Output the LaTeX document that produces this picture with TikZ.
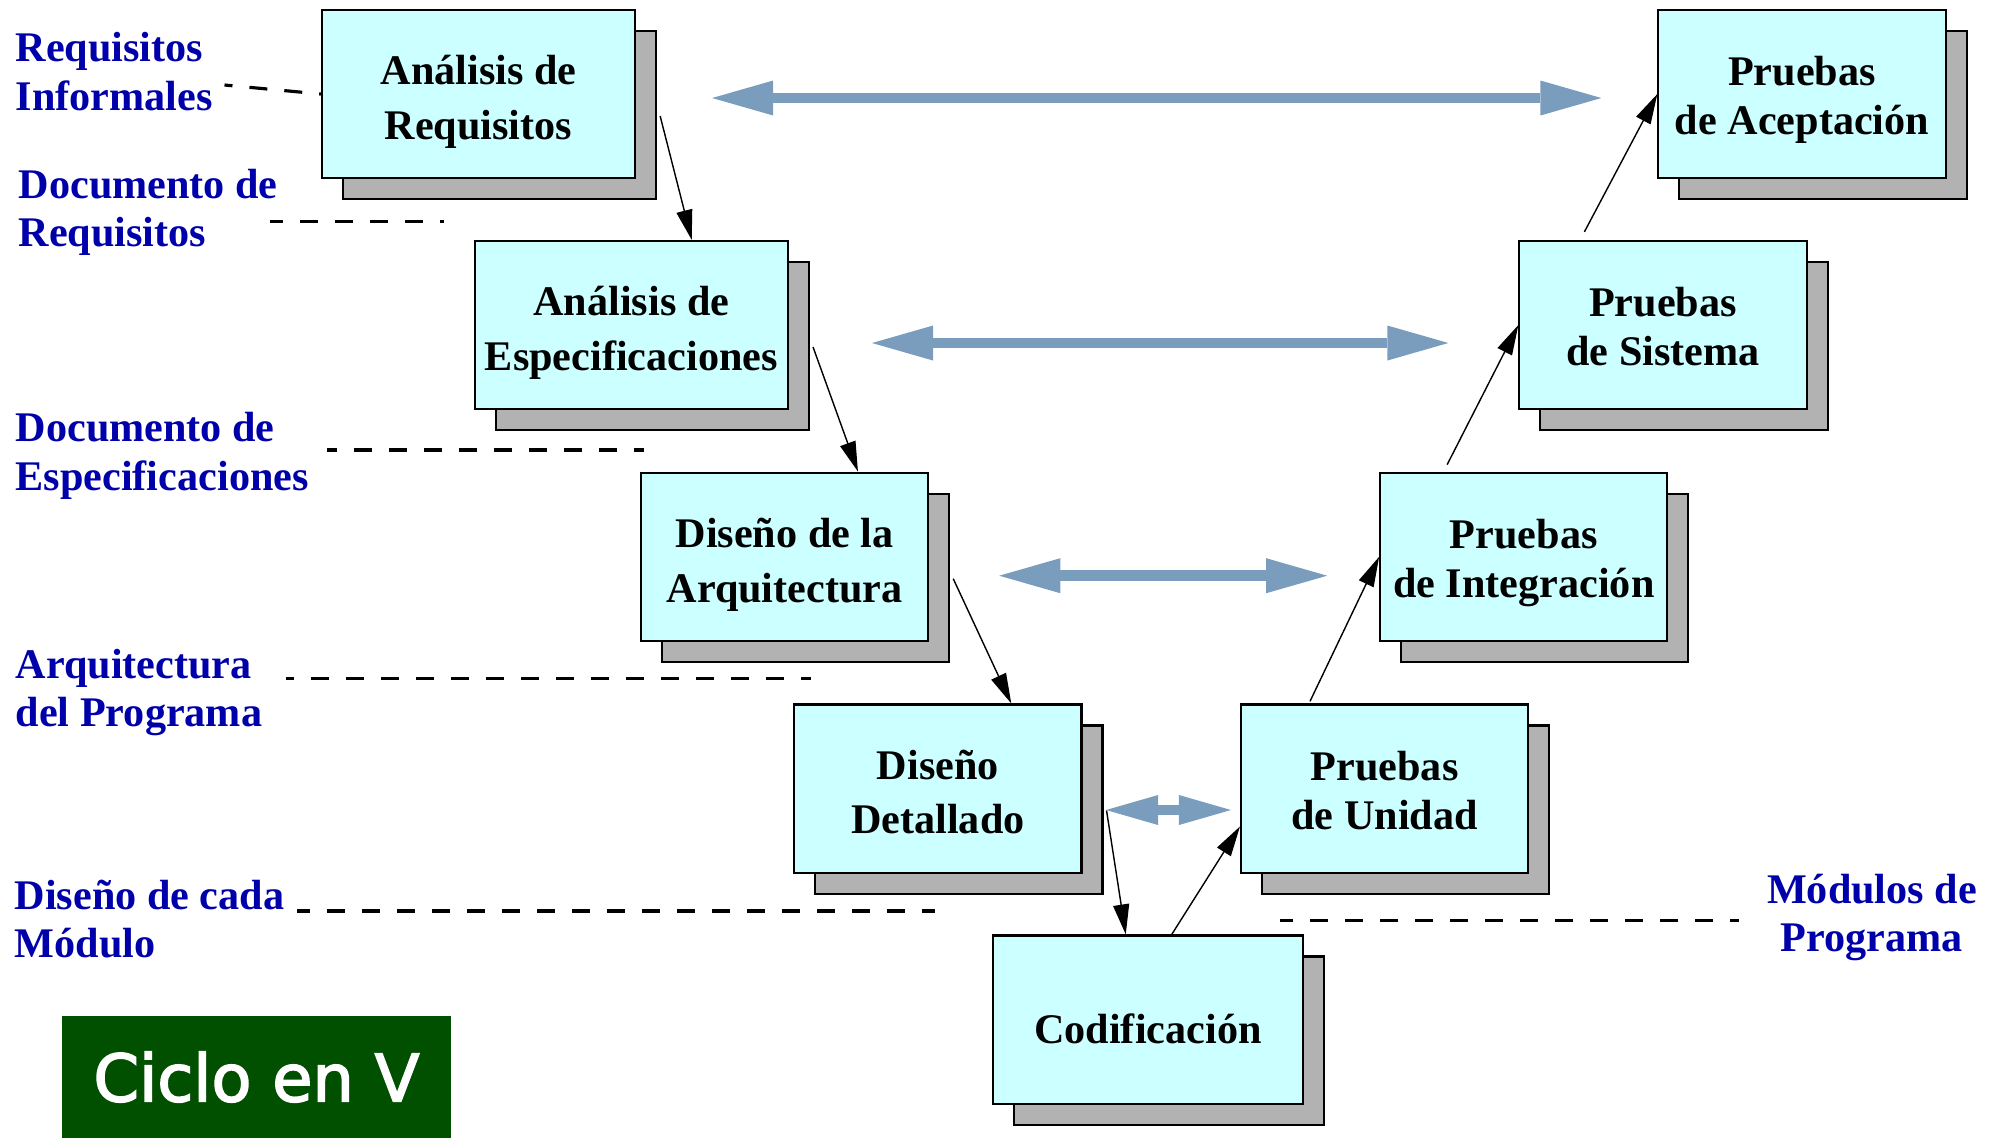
\documentclass[tikz,border=0pt]{standalone}
\usepackage{fontspec}
\setmainfont{Liberation Serif}
\newfontfamily\ciclofont[FakeBold=2.5]{DejaVu Sans}
\usepackage{tikz}
\usetikzlibrary{arrows.meta, calc, shadows}

\definecolor{cajacian}{RGB}{204,255,255}
\definecolor{sombragris}{RGB}{178,178,178}
\definecolor{azuldoc}{RGB}{0,0,170}
\definecolor{azulflecha}{RGB}{122,157,190}
\definecolor{verdeciclo}{RGB}{0,80,0}

\begin{document}
\begin{tikzpicture}[x=0.01cm, y=-0.01cm,
      etapa/.style={rectangle, draw, line width=0.6pt, fill=cajacian, inner sep=1pt, minimum width=2.87cm, minimum height=1.68cm, align=center,
        font=\fontsize{12}{15.6}\selectfont\bfseries, text height=28.8pt, text depth=3pt,
        general shadow={fill=sombragris, draw=black, line width=0.6pt, shadow xshift=0.21cm, shadow yshift=-0.21cm}},
      prueba/.style={etapa, font=\fontsize{12}{13.9}\selectfont\bfseries, text height=26.2pt},
      etiqueta/.style={text=azuldoc, font=\fontsize{12}{13.8}\selectfont\bfseries, align=left, anchor=base west, inner sep=0pt},
      flujo/.style={-{Triangle[length=0.3cm, width=0.16cm]}, line width=0.4pt},
      enlace/.style={{Triangle[length=0.61cm, width=0.35cm, line width=0pt]}-{Triangle[length=0.61cm, width=0.35cm, line width=0pt]}, line width=0.107cm, draw=azulflecha, fill=azulflecha},
      enlacecorto/.style={{Triangle[length=0.52cm, width=0.30cm, line width=0pt]}-{Triangle[length=0.52cm, width=0.30cm, line width=0pt]}, line width=0.10cm, draw=azulflecha, fill=azulflecha},
      guia/.style={dash pattern=on 0.18cm off 0.17cm, line width=0.9pt}]

      \useasboundingbox (0,0) rectangle (2002,1138);

      % Left branch
      \node[etapa, minimum width=3.13cm] (analreq) at (478.5,94) {Análisis de\\Requisitos};
      \node[etapa, minimum width=3.13cm] (analesp) at (631.4,325) {Análisis de\\Especificaciones};
      \node[etapa] (disarq) at (784.6,556.7) {Diseño de la\\Arquitectura};
      \node[etapa] (disdet) at (937.9,788.5) {Diseño\\Detallado};
      \node[etapa, minimum width=3.10cm, text height=16.5pt] (codif) at (1147.9,1019.5) {Codificación};

      % Right branch
      \node[prueba] (prunid) at (1384.6,788.5) {Pruebas\\de Unidad};
      \node[prueba] (printeg) at (1523.8,556.7) {Pruebas\\de Integración};
      \node[prueba] (prsist) at (1663,325) {Pruebas\\de Sistema};
      \node[prueba] (pracep) at (1802,94) {Pruebas\\de Aceptación};

      % Arrows
      \draw[flujo] ($(analreq.east)+(24,22)$) -- ($(analesp.north west)+(218,0)$);
      \draw[flujo] ($(analesp.east)+(24,22)$) -- ($(disarq.north west)+(218,0)$);
      \draw[flujo] ($(disarq.east)+(24,22)$) -- ($(disdet.north west)+(218,0)$);
      \draw[flujo] ($(disdet.east)+(24,22)$) -- ($(codif.north west)+(134,0)$);
      \draw[flujo] ($(codif.north west)+(180,0)$) -- ($(prunid.west)+(0,38)$);
      \draw[flujo] ($(prunid.north west)+(70,-2)$) -- (printeg.west);
      \draw[flujo] ($(printeg.north west)+(68,-7)$) -- (prsist.west);
      \draw[flujo] ($(prsist.north west)+(66,-8)$) -- (pracep.west);

      % Verification links
      \draw[enlace] ($(analreq.east)+(76,4)$) -- ($(pracep.west)+(-56,4)$);
      \draw[enlace] ($(analesp.east)+(83,18)$) -- ($(prsist.west)+(-70,18)$);
      \draw[enlace] ($(disarq.east)+(70,19)$) -- ($(printeg.west)+(-52,19)$);
      \draw[enlacecorto] ($(disdet.east)+(23.5,21.5)$) -- ($(prunid.west)+(-9,21.5)$);

      % Documents
      \node[etiqueta] (lreqinf) at (15,110) {Requisitos\\Informales};
      \node[etiqueta] (ldocreq) at (18,246.7) {Documento de\\Requisitos};
      \node[etiqueta] (ldocesp) at (15,490) {Documento de\\Especificaciones};
      \node[etiqueta] (larqprog) at (15,726.7) {Arquitectura\\del Programa};
      \node[etiqueta] (ldismod) at (14,957.7) {Diseño de cada\\Módulo};
      \node[etiqueta, align=center, anchor=base] (lmodprog) at (1872,951.7) {Módulos de\\Programa};

      \draw[guia, dash phase=0.10cm] (224.5,85) -- (analreq.west);
      \draw[guia, dash phase=0.05cm] (270,221.5) -- (444,221.5);
      \draw[guia, dash phase=0.08cm] (327,450) -- (644,450);
      \draw[guia, dash phase=0.10cm] (286,678.5) -- (811,678.5);
      \draw[guia, dash phase=0.05cm] (297,911) -- (935,911);
      \draw[guia, dash phase=0.05cm] (1280,920.7) -- (1739,920.7);

      % Title
      \node[fill=verdeciclo, text=white, minimum width=3.884cm, minimum height=1.22cm, font=\ciclofont\fontsize{18.6}{22}\selectfont] (ciclo) at (256.5,1077) {Ciclo en V};
    \end{tikzpicture}
\end{document}
